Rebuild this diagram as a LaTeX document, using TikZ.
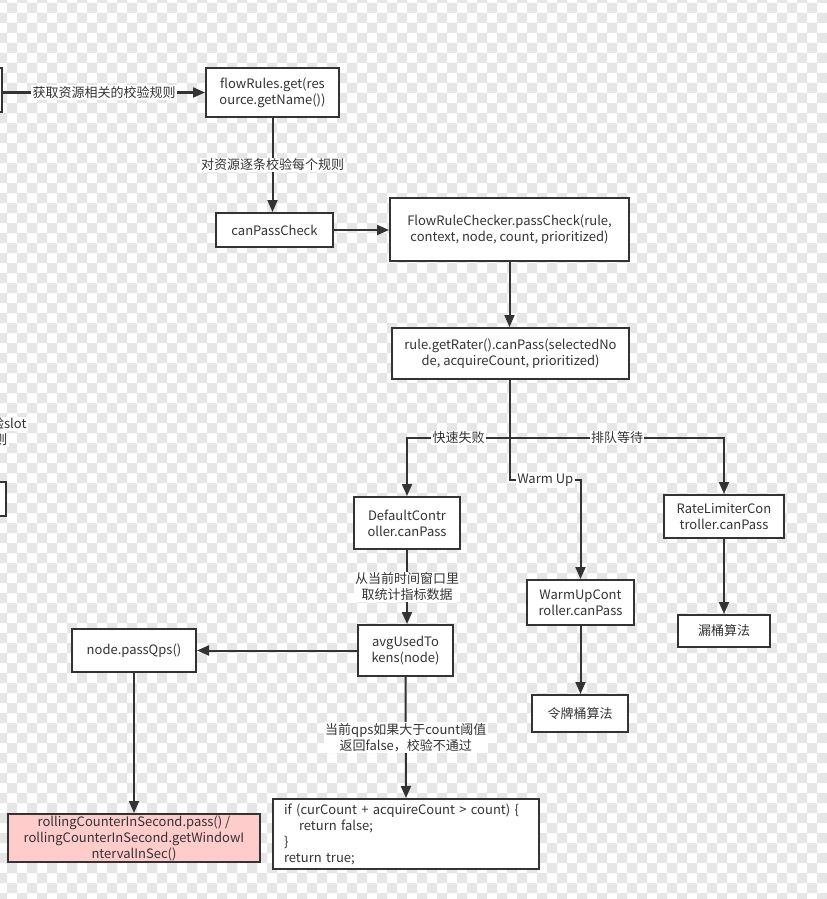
\documentclass[tikz,border=0pt]{standalone}
\usepackage{fontspec}
\setmainfont{Noto Sans CJK SC}
\usetikzlibrary{arrows.meta}
\definecolor{ln}{HTML}{333333}
\definecolor{chk}{HTML}{E6E6E6}
\definecolor{pk}{HTML}{FFCCCC}
\tikzset{
  txt/.style={font=\fontsize{9.75pt}{12pt}\selectfont, text=ln},
  box/.style={txt, draw=ln, line width=1.5pt, fill=white, align=center, inner sep=0pt},
  sz/.style 2 args={minimum width=#1*0.75pt, minimum height=#2*0.75pt},
  conn/.style={draw=ln, line width=1.5pt},
  arr/.style={conn, -{Triangle[length=9pt,width=7.5pt]}},
  lbl/.style={txt, fill=white, inner sep=1pt, align=center},
}
\begin{document}
\begin{tikzpicture}[x=0.75pt,y=-0.75pt]
\useasboundingbox (0,0) rectangle (827,899);
\clip (0,0) rectangle (827,899);
\fill[white] (0,0) rectangle (827,899);
\fill[chk] \foreach \i [evaluate=\i as \off using {mod(\i,2)*10}] in {0,...,83} {
  \foreach \j in {0,...,45} { ({-3+10*\i},{-7+\off+20*\j}) rectangle ++(10,10) } };

% left clipped boxes and text
\node[box, sz={60}{44}, anchor=east] (lb1) at (3,90) {};
\node[box, sz={60}{34}, anchor=east] (lb2) at (7,499) {};
\node[lbl, anchor=east] (lt1) at (28,424) {校验slot};
\node[lbl, anchor=east] (lt2) at (9,440) {规则};

% main nodes
\node[box, sz={133}{49}] (flow) at (272.5,92.5) {flowRules.get(res\\ource.getName())};
\node[box, sz={117}{34}] (cpc) at (274.5,230) {canPassCheck};
\node[box, sz={239}{63}] (frc) at (509.5,229.5) {FlowRuleChecker.passCheck(rule,\\context, node, count, prioritized)};
\node[box, sz={237}{51}] (rule) at (510.5,353.5) {rule.getRater().canPass(selectedNo\\de, acquireCount, prioritized)};
\node[box, sz={106}{52}] (dc) at (407,523) {DefaultContr\\oller.canPass};
\node[box, sz={107}{45}] (wu) at (580.5,602.5) {WarmUpCont\\roller.canPass};
\node[box, sz={120}{43}] (rl) at (724,516.5) {RateLimiterCon\\troller.canPass};
\node[box, sz={92}{32}] (lt) at (724,631) {漏桶算法};
\node[box, sz={96}{37}] (lp) at (580,713.5) {令牌桶算法};
\node[box, sz={95}{51}] (avg) at (405.5,650.5) {avgUsedTo\\kens(node)};
\node[box, sz={124}{43}] (qps) at (134,650.5) {node.passQps()};
\node[box, sz={252}{48}, fill=pk] (pink) at (134,838) {rollingCounterInSecond.pass() /\\rollingCounterInSecond.getWindowI\\ntervalInSec()};
\node[box, sz={266}{70}, align=left, text width=244*0.75pt] (code) at (406,834) {if (curCount + acquireCount > count) \{\\\hspace*{11.25pt}return false;\\\}\\return true;};

% connectors
\draw[arr] (lb1.east |- flow.west) -- node[lbl] {获取资源相关的校验规则} (flow.west);
\draw[arr] (flow.south) -- node[lbl] {对资源逐条校验每个规则} (flow.south |- cpc.north);
\draw[arr] (cpc.east) -- (cpc.east -| frc.west);
\draw[arr] (frc.south) -- (frc.south |- rule.north);
\coordinate (br) at (510,438);
\coordinate (wm) at (510,480);
\draw[conn] (rule.south -| br) -- (br);
\draw[arr] (br) -| node[lbl, pos=0.25] {快速失败} (dc.north);
\draw[arr] (br) -| node[lbl, pos=0.25] {排队等待} (rl.north);
\draw[arr] (br) -- (wm) -| node[lbl, pos=0.25] {Warm Up} (wu.north);
\draw[arr] (dc.south) -- node[lbl] {从当前时间窗口里\\取统计指标数据} (dc.south |- avg.north);
\draw[arr] (avg.west) -- (qps.east);
\draw[arr] (qps.south) -- (pink.north);
\draw[arr] (avg.south) -- node[lbl] {当前qps如果大于count阈值\\返回false，校验不通过} (code.north);
\draw[arr] (wu.south) -- (wu.south |- lp.north);
\draw[arr] (rl.south) -- (lt.north);
\end{tikzpicture}
\end{document}
